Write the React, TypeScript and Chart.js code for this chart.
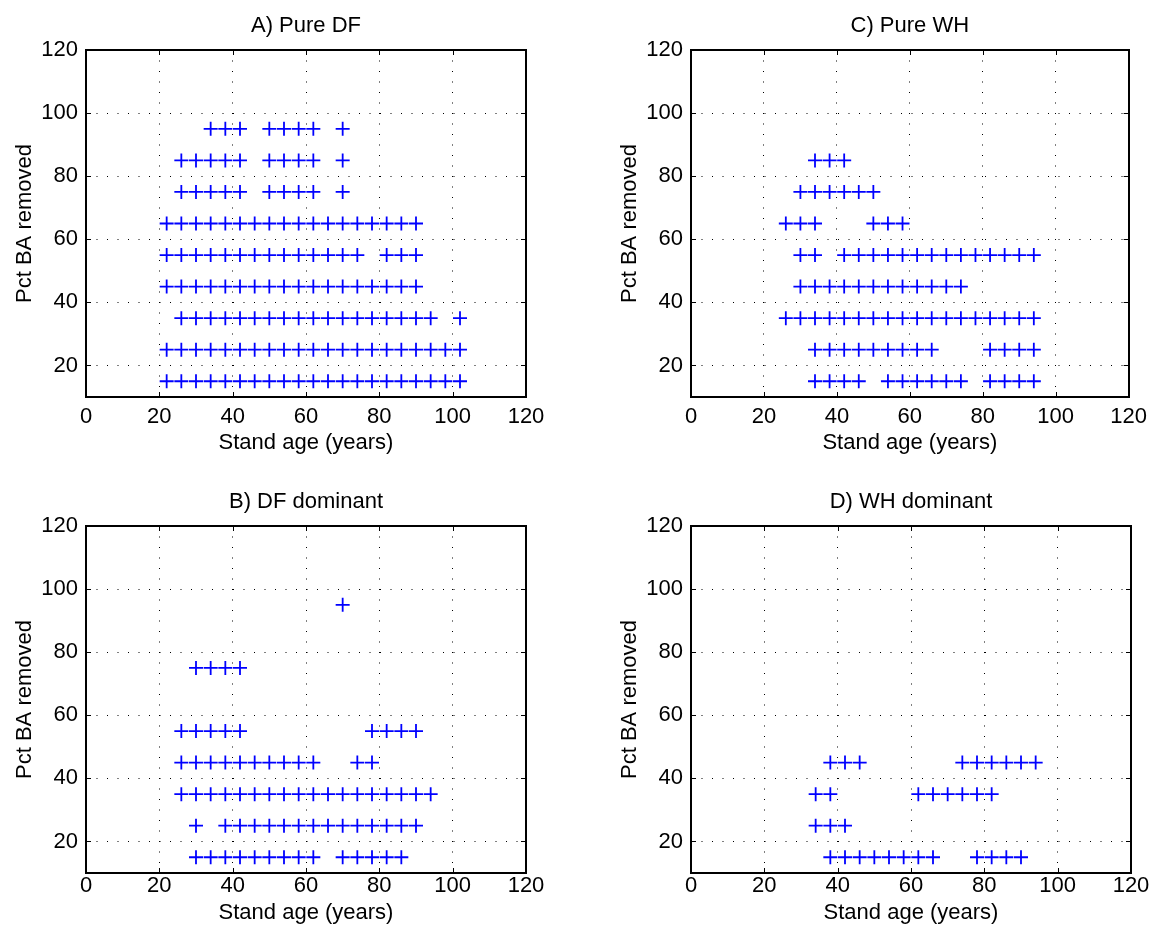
import React, { useEffect, useRef } from "react";
import { Chart, registerables } from "chart.js";

Chart.register(...registerables);

// Percent BA removed levels (one row of markers per level)
const pctLevels = [15, 25, 35, 45, 55, 65, 75, 85, 95];
const xTicks = [0, 20, 40, 60, 80, 100, 120];
const yTicks = [20, 40, 60, 80, 100, 120];

// Stand ages per pct level (index matches pctLevels)
const pureDFAges: number[][] = [
  [22, 26, 30, 34, 38, 42, 46, 50, 54, 58, 62, 66, 70, 74, 78, 82, 86, 90, 94, 98, 102],
  [22, 26, 30, 34, 38, 42, 46, 50, 54, 58, 62, 66, 70, 74, 78, 82, 86, 90, 94, 98, 102],
  [26, 30, 34, 38, 42, 46, 50, 54, 58, 62, 66, 70, 74, 78, 82, 86, 90, 94, 102],
  [22, 26, 30, 34, 38, 42, 46, 50, 54, 58, 62, 66, 70, 74, 78, 82, 86, 90],
  [22, 26, 30, 34, 38, 42, 46, 50, 54, 58, 62, 66, 70, 74, 82, 86, 90],
  [22, 26, 30, 34, 38, 42, 46, 50, 54, 58, 62, 66, 70, 74, 78, 82, 86, 90],
  [26, 30, 34, 38, 42, 50, 54, 58, 62, 70],
  [26, 30, 34, 38, 42, 50, 54, 58, 62, 70],
  [34, 38, 42, 50, 54, 58, 62, 70],
];

const pureWHAges: number[][] = [
  [34, 38, 42, 46, 54, 58, 62, 66, 70, 74, 82, 86, 90, 94],
  [34, 38, 42, 46, 50, 54, 58, 62, 66, 82, 86, 90, 94],
  [26, 30, 34, 38, 42, 46, 50, 54, 58, 62, 66, 70, 74, 78, 82, 86, 90, 94],
  [30, 34, 38, 42, 46, 50, 54, 58, 62, 66, 70, 74],
  [30, 34, 42, 46, 50, 54, 58, 62, 66, 70, 74, 78, 82, 86, 90, 94],
  [26, 30, 34, 50, 54, 58],
  [30, 34, 38, 42, 46, 50],
  [34, 38, 42],
  [],
];

const dfDominantAges: number[][] = [
  [30, 34, 38, 42, 46, 50, 54, 58, 62, 70, 74, 78, 82, 86],
  [30, 38, 42, 46, 50, 54, 58, 62, 66, 70, 74, 78, 82, 86, 90],
  [26, 30, 34, 38, 42, 46, 50, 54, 58, 62, 66, 70, 74, 78, 82, 86, 90, 94],
  [26, 30, 34, 38, 42, 46, 50, 54, 58, 62, 74, 78],
  [26, 30, 34, 38, 42, 78, 82, 86, 90],
  [],
  [30, 34, 38, 42],
  [],
  [70],
];

const whDominantAges: number[][] = [
  [38, 42, 46, 50, 54, 58, 62, 66, 78, 82, 86, 90],
  [34, 38, 42],
  [34, 38, 62, 66, 70, 74, 78, 82],
  [38, 42, 46, 74, 78, 82, 86, 90, 94],
  [],
  [],
  [],
  [],
  [],
];

const panelTitles = ["A) Pure DF", "C) Pure WH", "B) DF dominant", "D) WH dominant"];
const xAxisTitle = "Stand age (years)";
const yAxisTitle = "Pct BA removed";

const FONT = '"Liberation Sans", Arial, Helvetica, sans-serif';
const FONT_SIZE = 22;

type Panel = {
  title: string;
  ages: number[][];
  left: number;
  top: number;
  width: number;
  height: number;
  tickPad: number;
  xTitlePad: number;
};

const panels: Panel[] = [
  { title: panelTitles[0], ages: pureDFAges, left: 0, top: 0, width: 577, height: 467, tickPad: 7, xTitlePad: 11 },
  { title: panelTitles[1], ages: pureWHAges, left: 605, top: 0, width: 549, height: 467, tickPad: 7, xTitlePad: 11 },
  { title: panelTitles[2], ages: dfDominantAges, left: 0, top: 476, width: 577, height: 458, tickPad: 0, xTitlePad: 8 },
  { title: panelTitles[3], ages: whDominantAges, left: 605, top: 476, width: 549, height: 458, tickPad: 0, xTitlePad: 8 },
];

const CHART_LEFT = 86;
const CHART_TOP = 50;
const CHART_W = 440;
const CHART_H = 347;

const framePlugin = {
  id: "frame",
  afterDraw(chart: any, _args: any, opts: any) {
    const { ctx, chartArea } = chart;
    const { left, top, right, bottom } = chartArea;
    const xs = chart.scales.x;
    const ys = chart.scales.y;
    ctx.save();
    // inward tick marks on all four sides
    ctx.strokeStyle = "#000";
    ctx.lineWidth = 1;
    ctx.beginPath();
    const tl = 5;
    xs.ticks.forEach((t: any) => {
      const px = Math.round(xs.getPixelForValue(t.value)) + 0.5;
      ctx.moveTo(px, bottom);
      ctx.lineTo(px, bottom - tl);
      ctx.moveTo(px, top);
      ctx.lineTo(px, top + tl);
    });
    ys.ticks.forEach((t: any) => {
      const py = Math.round(ys.getPixelForValue(t.value)) + 0.5;
      ctx.moveTo(left, py);
      ctx.lineTo(left + tl, py);
      ctx.moveTo(right, py);
      ctx.lineTo(right - tl, py);
    });
    ctx.stroke();
    // axes box
    ctx.lineWidth = 2;
    ctx.strokeRect(Math.round(left), Math.round(top), Math.round(right) - Math.round(left), Math.round(bottom) - Math.round(top));
    // panel title
    ctx.fillStyle = "#000";
    ctx.font = `${FONT_SIZE}px ${FONT}`;
    ctx.textAlign = "center";
    ctx.textBaseline = "alphabetic";
    ctx.fillText(opts.title || "", (left + right) / 2, top - 18.5);
    ctx.restore();
  },
};

function PanelChart({ p }: { p: Panel }) {
  const ref = useRef<HTMLCanvasElement | null>(null);
  useEffect(() => {
    if (!ref.current) return;
    const points: { x: number; y: number }[] = [];
    pctLevels.forEach((lvl, i) => {
      (p.ages[i] || []).forEach((a) => points.push({ x: a, y: lvl }));
    });
    const xHeight = p.height - CHART_TOP - CHART_H;
    const chart = new Chart(ref.current, {
      type: "scatter",
      data: {
        datasets: [
          {
            data: points,
            pointStyle: "cross",
            pointRadius: 7,
            pointHoverRadius: 7,
            pointBorderColor: "#0000ff",
            pointBackgroundColor: "#0000ff",
            pointBorderWidth: 1.8,
          },
        ],
      },
      options: {
        responsive: false,
        animation: false,
        devicePixelRatio: 1,
        events: [],
        layout: {
          padding: { left: 0, top: CHART_TOP, right: p.width - CHART_LEFT - CHART_W, bottom: 0 },
        },
        plugins: {
          legend: { display: false },
          tooltip: { enabled: false },
          title: { display: false },
          frame: { title: p.title },
        } as any,
        scales: {
          x: {
            type: "linear",
            min: 0,
            max: 120,
            afterBuildTicks: (scale: any) => {
              scale.ticks = xTicks.map((v) => ({ value: v }));
            },
            afterFit: (scale: any) => {
              scale.height = xHeight;
            },
            ticks: {
              autoSkip: false,
              maxRotation: 0,
              padding: p.tickPad,
              color: "#000",
              font: { family: FONT, size: FONT_SIZE },
            },
            grid: { color: "#000", lineWidth: 1, drawTicks: false },
            border: { display: false, dash: [1, 9.5] },
            title: {
              display: true,
              text: xAxisTitle,
              color: "#000",
              font: { family: FONT, size: FONT_SIZE },
              padding: { top: 0, bottom: p.xTitlePad },
            },
          },
          y: {
            type: "linear",
            min: 10,
            max: 120,
            afterBuildTicks: (scale: any) => {
              scale.ticks = yTicks.map((v) => ({ value: v }));
            },
            afterFit: (scale: any) => {
              scale.width = CHART_LEFT;
            },
            ticks: {
              autoSkip: false,
              padding: 8,
              color: "#000",
              font: { family: FONT, size: FONT_SIZE },
            },
            grid: { color: "#000", lineWidth: 1, drawTicks: false },
            border: { display: false, dash: [1, 9.5] },
            title: {
              display: true,
              text: yAxisTitle,
              color: "#000",
              font: { family: FONT, size: FONT_SIZE },
              padding: { top: 12, bottom: 0 },
            },
          },
        },
      } as any,
      plugins: [framePlugin],
    });
    return () => chart.destroy();
  }, [p]);
  return (
    <div style={{ position: "absolute", left: p.left, top: p.top, width: p.width, height: p.height }}>
      <canvas ref={ref} width={p.width} height={p.height} style={{ display: "block" }} />
    </div>
  );
}

export default function App() {
  return (
    <div
      style={{
        position: "absolute",
        left: 0,
        top: 0,
        width: 1154,
        height: 934,
        overflow: "hidden",
        background: "#fff",
      }}
    >
      {panels.map((p, i) => (
        <PanelChart key={i} p={p} />
      ))}
    </div>
  );
}
